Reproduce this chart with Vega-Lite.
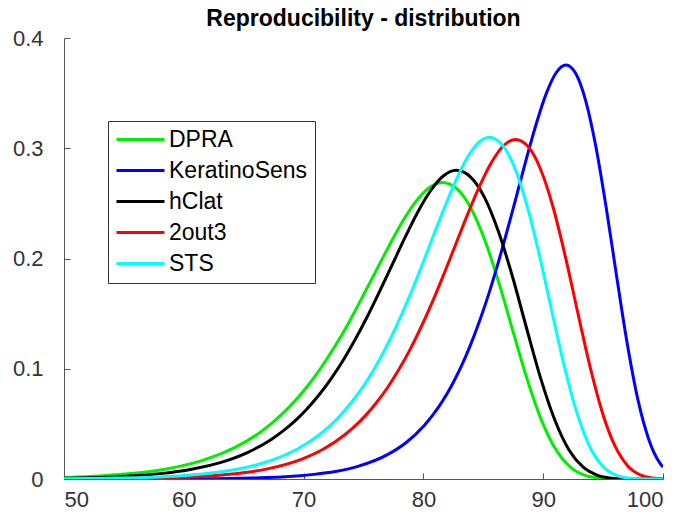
{
  "$schema": "https://vega.github.io/schema/vega-lite/v6.json",
  "autosize": {"type": "none"},
  "padding": {"left": 64, "top": 38, "right": 35, "bottom": 38},
  "width": 599,
  "height": 441,
  "background": "white",
  "title": {"text": "Reproducibility - distribution", "font": "Liberation Sans", "fontSize": 23, "fontWeight": "bold", "color": "black", "anchor": "middle", "frame": "group", "baseline": "alphabetic", "offset": 1, "dy": 23},
  "config": {"view": {"stroke": null}},
  "data": {"values": [
    {"s":"DPRA","x":50,"y":0.0013},{"s":"DPRA","x":51.12,"y":0.0018},{"s":"DPRA","x":53.33,"y":0.003},{"s":"DPRA","x":55.6,"y":0.0049},{"s":"DPRA","x":57.93,"y":0.008},{"s":"DPRA","x":61.29,"y":0.016},{"s":"DPRA","x":63.27,"y":0.0236},{"s":"DPRA","x":65.28,"y":0.0346},{"s":"DPRA","x":66.3,"y":0.0418},{"s":"DPRA","x":67.33,"y":0.0504},{"s":"DPRA","x":68.37,"y":0.0606},{"s":"DPRA","x":69.42,"y":0.0725},{"s":"DPRA","x":70.48,"y":0.0864},{"s":"DPRA","x":71.55,"y":0.1025},{"s":"DPRA","x":72.63,"y":0.1206},{"s":"DPRA","x":73.72,"y":0.1409},{"s":"DPRA","x":74.81,"y":0.163},{"s":"DPRA","x":75.92,"y":0.1862},{"s":"DPRA","x":77.04,"y":0.2096},{"s":"DPRA","x":78.16,"y":0.2318},{"s":"DPRA","x":79.3,"y":0.2507},{"s":"DPRA","x":80.45,"y":0.264},{"s":"DPRA","x":81.6,"y":0.269},{"s":"DPRA","x":82.79,"y":0.2633},{"s":"DPRA","x":83.98,"y":0.2454},{"s":"DPRA","x":85.17,"y":0.2154},{"s":"DPRA","x":86.36,"y":0.1758},{"s":"DPRA","x":87.55,"y":0.1312},{"s":"DPRA","x":88.74,"y":0.0878},{"s":"DPRA","x":89.93,"y":0.0514},{"s":"DPRA","x":91.12,"y":0.0256},{"s":"DPRA","x":92.31,"y":0.0104},{"s":"DPRA","x":93.5,"y":0.0033},{"s":"DPRA","x":94.69,"y":0.0008},{"s":"DPRA","x":95.88,"y":0.0001},{"s":"DPRA","x":100,"y":0},
    {"s":"KeratinoSens","x":50,"y":0},{"s":"KeratinoSens","x":62.3,"y":0.0003},{"s":"KeratinoSens","x":65.65,"y":0.0009},{"s":"KeratinoSens","x":69.1,"y":0.0025},{"s":"KeratinoSens","x":70.86,"y":0.0042},{"s":"KeratinoSens","x":72.65,"y":0.0068},{"s":"KeratinoSens","x":74.46,"y":0.0112},{"s":"KeratinoSens","x":77.04,"y":0.0223},{"s":"KeratinoSens","x":78.54,"y":0.0329},{"s":"KeratinoSens","x":80.05,"y":0.0484},{"s":"KeratinoSens","x":80.81,"y":0.0584},{"s":"KeratinoSens","x":81.58,"y":0.0704},{"s":"KeratinoSens","x":82.35,"y":0.0846},{"s":"KeratinoSens","x":83.12,"y":0.1012},{"s":"KeratinoSens","x":83.9,"y":0.1207},{"s":"KeratinoSens","x":84.68,"y":0.143},{"s":"KeratinoSens","x":85.47,"y":0.1684},{"s":"KeratinoSens","x":86.26,"y":0.1967},{"s":"KeratinoSens","x":87.05,"y":0.2275},{"s":"KeratinoSens","x":87.85,"y":0.2599},{"s":"KeratinoSens","x":88.65,"y":0.2926},{"s":"KeratinoSens","x":89.46,"y":0.3236},{"s":"KeratinoSens","x":90.27,"y":0.35},{"s":"KeratinoSens","x":91.08,"y":0.3685},{"s":"KeratinoSens","x":91.9,"y":0.3755},{"s":"KeratinoSens","x":92.73,"y":0.3675},{"s":"KeratinoSens","x":93.56,"y":0.3426},{"s":"KeratinoSens","x":94.41,"y":0.3007},{"s":"KeratinoSens","x":95.27,"y":0.2454},{"s":"KeratinoSens","x":96.14,"y":0.1831},{"s":"KeratinoSens","x":97.02,"y":0.1225},{"s":"KeratinoSens","x":97.91,"y":0.0717},{"s":"KeratinoSens","x":98.82,"y":0.0357},{"s":"KeratinoSens","x":99.73,"y":0.0146},{"s":"KeratinoSens","x":100,"y":0.0108},
    {"s":"hClat","x":50,"y":0.0007},{"s":"hClat","x":54.07,"y":0.0019},{"s":"hClat","x":56.13,"y":0.0031},{"s":"hClat","x":58.25,"y":0.0051},{"s":"hClat","x":60.43,"y":0.0084},{"s":"hClat","x":63.58,"y":0.0166},{"s":"hClat","x":65.44,"y":0.0246},{"s":"hClat","x":67.33,"y":0.0361},{"s":"hClat","x":68.29,"y":0.0436},{"s":"hClat","x":69.26,"y":0.0525},{"s":"hClat","x":70.24,"y":0.0631},{"s":"hClat","x":71.23,"y":0.0755},{"s":"hClat","x":72.23,"y":0.09},{"s":"hClat","x":73.24,"y":0.1066},{"s":"hClat","x":74.26,"y":0.1256},{"s":"hClat","x":75.29,"y":0.1467},{"s":"hClat","x":76.32,"y":0.1696},{"s":"hClat","x":77.37,"y":0.1938},{"s":"hClat","x":78.43,"y":0.2182},{"s":"hClat","x":79.49,"y":0.2413},{"s":"hClat","x":80.57,"y":0.261},{"s":"hClat","x":81.66,"y":0.2748},{"s":"hClat","x":82.75,"y":0.28},{"s":"hClat","x":83.92,"y":0.2741},{"s":"hClat","x":85.1,"y":0.2554},{"s":"hClat","x":86.27,"y":0.2242},{"s":"hClat","x":87.45,"y":0.183},{"s":"hClat","x":88.62,"y":0.1365},{"s":"hClat","x":89.79,"y":0.0913},{"s":"hClat","x":90.97,"y":0.0535},{"s":"hClat","x":92.14,"y":0.0266},{"s":"hClat","x":93.32,"y":0.0109},{"s":"hClat","x":94.49,"y":0.0035},{"s":"hClat","x":95.66,"y":0.0008},{"s":"hClat","x":96.84,"y":0.0001},{"s":"hClat","x":100,"y":0},
    {"s":"2out3","x":50,"y":0.0001},{"s":"2out3","x":57.39,"y":0.0008},{"s":"2out3","x":61.06,"y":0.0021},{"s":"2out3","x":62.98,"y":0.0034},{"s":"2out3","x":64.95,"y":0.0056},{"s":"2out3","x":66.98,"y":0.0092},{"s":"2out3","x":69.91,"y":0.0183},{"s":"2out3","x":71.63,"y":0.027},{"s":"2out3","x":73.39,"y":0.0397},{"s":"2out3","x":74.28,"y":0.0479},{"s":"2out3","x":75.18,"y":0.0577},{"s":"2out3","x":76.09,"y":0.0694},{"s":"2out3","x":77.01,"y":0.083},{"s":"2out3","x":77.94,"y":0.099},{"s":"2out3","x":78.88,"y":0.1173},{"s":"2out3","x":79.82,"y":0.1381},{"s":"2out3","x":80.78,"y":0.1613},{"s":"2out3","x":81.74,"y":0.1866},{"s":"2out3","x":82.71,"y":0.2132},{"s":"2out3","x":83.69,"y":0.24},{"s":"2out3","x":84.68,"y":0.2654},{"s":"2out3","x":85.68,"y":0.2871},{"s":"2out3","x":86.68,"y":0.3023},{"s":"2out3","x":87.7,"y":0.308},{"s":"2out3","x":88.74,"y":0.3015},{"s":"2out3","x":89.78,"y":0.281},{"s":"2out3","x":90.82,"y":0.2467},{"s":"2out3","x":91.86,"y":0.2013},{"s":"2out3","x":92.9,"y":0.1502},{"s":"2out3","x":93.94,"y":0.1005},{"s":"2out3","x":94.98,"y":0.0588},{"s":"2out3","x":96.02,"y":0.0293},{"s":"2out3","x":97.06,"y":0.0119},{"s":"2out3","x":98.1,"y":0.0038},{"s":"2out3","x":99.14,"y":0.0009},{"s":"2out3","x":100,"y":0.0002},
    {"s":"STS","x":50,"y":0.0003},{"s":"STS","x":54.28,"y":0.0008},{"s":"STS","x":58.32,"y":0.0021},{"s":"STS","x":60.39,"y":0.0034},{"s":"STS","x":62.5,"y":0.0056},{"s":"STS","x":64.64,"y":0.0093},{"s":"STS","x":67.7,"y":0.0184},{"s":"STS","x":69.48,"y":0.0272},{"s":"STS","x":71.28,"y":0.0399},{"s":"STS","x":72.19,"y":0.0482},{"s":"STS","x":73.1,"y":0.0581},{"s":"STS","x":74.02,"y":0.0698},{"s":"STS","x":74.95,"y":0.0836},{"s":"STS","x":75.88,"y":0.0996},{"s":"STS","x":76.82,"y":0.1181},{"s":"STS","x":77.76,"y":0.139},{"s":"STS","x":78.71,"y":0.1624},{"s":"STS","x":79.66,"y":0.1878},{"s":"STS","x":80.62,"y":0.2146},{"s":"STS","x":81.59,"y":0.2416},{"s":"STS","x":82.56,"y":0.2671},{"s":"STS","x":83.53,"y":0.2889},{"s":"STS","x":84.51,"y":0.3042},{"s":"STS","x":85.5,"y":0.31},{"s":"STS","x":86.55,"y":0.3034},{"s":"STS","x":87.6,"y":0.2828},{"s":"STS","x":88.64,"y":0.2483},{"s":"STS","x":89.69,"y":0.2026},{"s":"STS","x":90.74,"y":0.1512},{"s":"STS","x":91.79,"y":0.1011},{"s":"STS","x":92.84,"y":0.0592},{"s":"STS","x":93.88,"y":0.0295},{"s":"STS","x":94.93,"y":0.012},{"s":"STS","x":95.98,"y":0.0039},{"s":"STS","x":97.03,"y":0.0009},{"s":"STS","x":98.08,"y":0.0002},{"s":"STS","x":100,"y":0}
  ]},
  "mark": {"type": "line", "interpolate": "monotone", "strokeWidth": 3, "clip": true},
  "encoding": {
    "x": {"field": "x", "type": "quantitative", "scale": {"domain": [50, 100], "nice": false, "zero": false},
      "axis": {"title": null, "values": [50, 60, 70, 80, 90, 100], "grid": false, "domainColor": "#555555", "domainWidth": 1, "tickColor": "#555555", "tickSize": -6, "labelPadding": 16, "labelFont": "Liberation Sans", "labelFontSize": 22, "labelColor": "#333333"}},
    "y": {"field": "y", "type": "quantitative", "scale": {"domain": [0, 0.4], "nice": false},
      "axis": {"title": null, "values": [0, 0.1, 0.2, 0.3, 0.4], "format": "~g", "grid": false, "domainColor": "#555555", "domainWidth": 1, "tickColor": "#555555", "tickSize": -6, "labelPadding": 27, "labelFont": "Liberation Sans", "labelFontSize": 22, "labelColor": "#333333"}},
    "color": {"field": "s", "type": "nominal",
      "scale": {"domain": ["DPRA", "KeratinoSens", "hClat", "2out3", "STS"], "range": ["#00ee00", "#0000ff", "#000000", "#ff0000", "#00ffff"]},
      "legend": {"title": null, "orient": "none", "legendX": 44, "legendY": 83, "direction": "vertical", "fillColor": "white", "strokeColor": "#333333", "padding": 7, "symbolType": "M-4,0H4", "symbolSize": 144, "symbolOffset": 14, "symbolStrokeWidth": 3, "labelFont": "Liberation Sans", "labelFontSize": 23, "labelColor": "black", "labelOffset": 17, "rowPadding": 7}}
  }
}
